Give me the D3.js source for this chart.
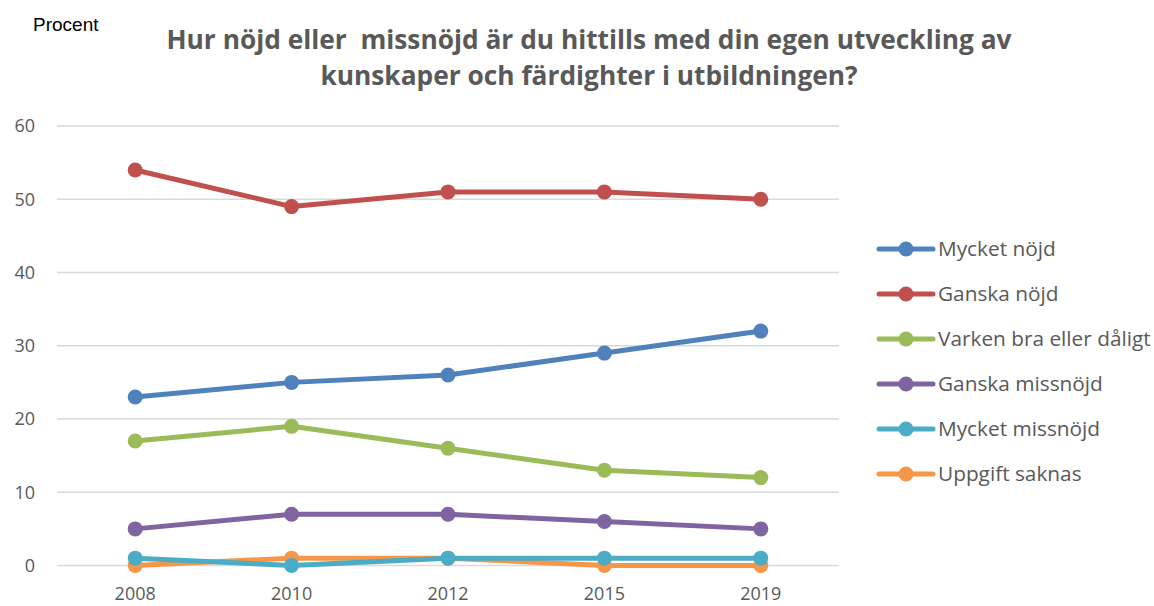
<!DOCTYPE html>
<html>
<head>
<meta charset="utf-8">
<script src="https://cdn.jsdelivr.net/npm/d3@7"></script>
<style>
  body { margin: 0; background: #fff; }
  svg { display: block; }
</style>
</head>
<body>
<svg id="chart"></svg>
<script>
// chart data
var years = ["2008", "2010", "2012", "2015", "2019"];
var seriesNames = ["Mycket nöjd", "Ganska nöjd", "Varken bra eller dåligt", "Ganska missnöjd", "Mycket missnöjd", "Uppgift saknas"];
var mycketNojd = [23, 25, 26, 29, 32];
var ganskaNojd = [54, 49, 51, 51, 50];
var varken = [17, 19, 16, 13, 12];
var ganskaMissnojd = [5, 7, 7, 6, 5];
var mycketMissnojd = [1, 0, 1, 1, 1];
var uppgiftSaknas = [0, 1, 1, 0, 0];
var yTicks = [0, 10, 20, 30, 40, 50, 60];
var colors = ["#4F81BD", "#C0504D", "#9BBB59", "#8064A2", "#4BACC6", "#F79646"];

var w = 1154, h = 606;
var allValues = [mycketNojd, ganskaNojd, varken, ganskaMissnojd, mycketMissnojd, uppgiftSaknas];
var series = seriesNames.map(function (n, i) { return { name: n, values: allValues[i], color: colors[i] }; });

var svg = d3.select("#chart").attr("width", w).attr("height", h);

var x = d3.scaleBand().domain(years).range([57, 839]);
var y = d3.scaleLinear().domain([0, 60]).range([565.5, 126]);

// gridlines
svg.append("g").selectAll("line").data(yTicks).enter().append("line")
    .attr("x1", 57).attr("x2", 839)
    .attr("y1", function (d) { return y(d); })
    .attr("y2", function (d) { return y(d); })
    .style("stroke", "#d9d9d9").style("stroke-width", 1.5);

// y axis labels
svg.append("g").selectAll("text").data(yTicks).enter().append("text")
    .attr("x", 35).attr("y", function (d) { return y(d); })
    .attr("dy", "0.35em").attr("text-anchor", "end")
    .style("font-family", "'Open Sans', sans-serif").style("font-size", "18px").style("fill", "#595959")
    .text(function (d) { return d; });

// x axis labels
svg.append("g").selectAll("text").data(years).enter().append("text")
    .attr("x", function (d) { return x(d) + x.bandwidth() / 2; }).attr("y", 600)
    .attr("text-anchor", "middle")
    .style("font-family", "'Open Sans', sans-serif").style("font-size", "18px").style("fill", "#595959")
    .text(function (d) { return d; });

var line = d3.line()
    .x(function (d, i) { return x(years[i]) + x.bandwidth() / 2; })
    .y(function (d) { return y(d); });

// lines, drawn so the first series ends on top like the original
var lines = svg.append("g");
series.slice().reverse().forEach(function (s) {
    lines.append("path").datum(s.values)
        .attr("d", line)
        .style("fill", "none").style("stroke", s.color).style("stroke-width", 5)
        .style("stroke-linejoin", "round");
    lines.selectAll(null).data(s.values).enter().append("circle")
        .attr("cx", function (d, i) { return x(years[i]) + x.bandwidth() / 2; })
        .attr("cy", function (d) { return y(d); })
        .attr("r", 7.5).style("fill", s.color);
});

// legend
var legend = svg.append("g").selectAll("g").data(series).enter().append("g")
    .attr("transform", function (d, i) { return "translate(0," + (249 + i * 45) + ")"; });
legend.append("line").attr("x1", 879).attr("x2", 933)
    .style("stroke", function (d) { return d.color; }).style("stroke-width", 5).style("stroke-linecap", "round");
legend.append("circle").attr("cx", 906).attr("r", 7.5).style("fill", function (d) { return d.color; });
legend.append("text").attr("x", 938).attr("dy", "0.35em")
    .style("font-family", "'Open Sans', sans-serif").style("font-size", "20.8px").style("fill", "#595959")
    .text(function (d) { return d.name; });

// titles
svg.append("text").attr("x", 33).attr("y", 31)
    .style("font-family", "'Liberation Sans', Arial, sans-serif").style("font-size", "19px").style("fill", "#000")
    .text("Procent");

var title = svg.append("text").attr("text-anchor", "middle")
    .style("font-family", "'Open Sans', sans-serif").style("font-weight", "bold").style("font-size", "26.3px").style("fill", "#595959")
    .style("white-space", "pre");
title.append("tspan").attr("x", 589).attr("y", 49).text("Hur nöjd eller  missnöjd är du hittills med din egen utveckling av");
title.append("tspan").attr("x", 589).attr("y", 85).text("kunskaper och färdighter i utbildningen?");
</script>
</body>
</html>
